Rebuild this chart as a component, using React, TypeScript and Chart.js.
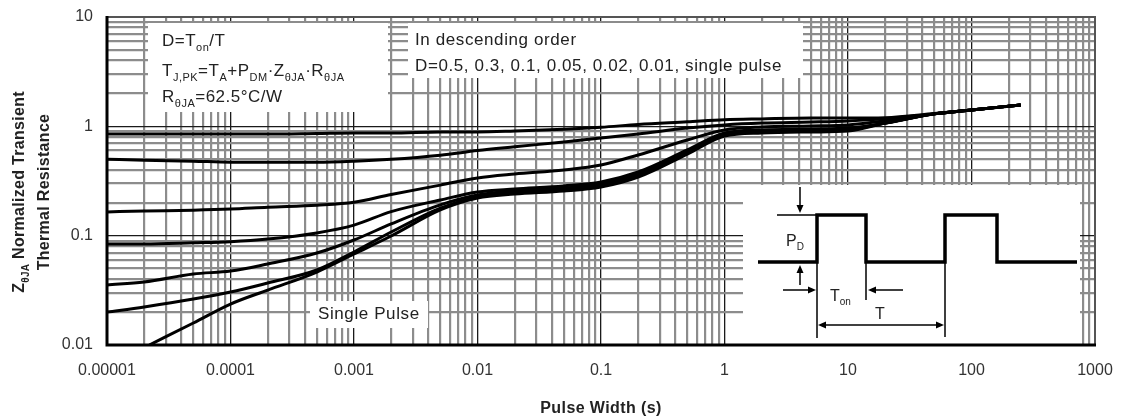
import React, { useEffect, useRef } from 'react';
import { Chart, registerables } from 'chart.js';

Chart.register(...registerables);

// ---------- data ----------
const xTickLabels = ['0.00001', '0.0001', '0.001', '0.01', '0.1', '1', '10', '100', '1000'];
const yTickLabels = ['0.01', '0.1', '1', '10'];

const pulseWidth = [1e-5, 2e-5, 5e-5, 1e-4, 2e-4, 5e-4, 1e-3, 2e-3, 5e-3, 0.01, 0.02, 0.05, 0.1, 0.2, 0.5, 1, 2, 5, 10, 20, 50, 100, 250];

const zD050 = [0.85, 0.85, 0.85, 0.85, 0.85, 0.86, 0.869, 0.869, 0.888, 0.888, 0.906, 0.94, 0.98, 1.04, 1.1, 1.15, 1.17, 1.19, 1.19, 1.2, 1.31, 1.41, 1.57];
const zD030 = [0.5, 0.49, 0.48, 0.47, 0.47, 0.47, 0.48, 0.5, 0.545, 0.6, 0.65, 0.72, 0.782, 0.851, 0.965, 1.03, 1.07, 1.095, 1.12, 1.17, 1.3, 1.41, 1.57];
const zD010 = [0.165, 0.168, 0.171, 0.175, 0.182, 0.19, 0.202, 0.238, 0.29, 0.337, 0.366, 0.399, 0.443, 0.547, 0.75, 0.926, 0.986, 1.007, 1.03, 1.12, 1.3, 1.41, 1.57];
const zD005 = [0.084, 0.084, 0.086, 0.088, 0.093, 0.106, 0.125, 0.166, 0.212, 0.251, 0.267, 0.285, 0.31, 0.382, 0.608, 0.869, 0.926, 0.945, 0.965, 1.07, 1.3, 1.41, 1.57];
const zD002 = [0.0354, 0.0377, 0.0446, 0.0475, 0.0551, 0.0694, 0.0913, 0.128, 0.191, 0.235, 0.256, 0.273, 0.297, 0.366, 0.582, 0.851, 0.906, 0.926, 0.945, 1.07, 1.3, 1.41, 1.57];
const zD001 = [0.02, 0.0223, 0.0263, 0.0305, 0.0369, 0.0485, 0.0709, 0.108, 0.179, 0.226, 0.246, 0.262, 0.285, 0.351, 0.57, 0.833, 0.888, 0.906, 0.926, 1.07, 1.3, 1.41, 1.57];

const singlePulseWidth = [2.2e-5, 5e-5, 1e-4, 2e-4, 5e-4, 1e-3, 2e-3, 5e-3, 0.01, 0.02, 0.05, 0.1, 0.2, 0.5, 1, 2, 5, 10, 20, 50, 100, 250];
const zSingle = [0.01, 0.0159, 0.0237, 0.0318, 0.0465, 0.068, 0.0993, 0.172, 0.221, 0.24, 0.256, 0.279, 0.344, 0.558, 0.816, 0.869, 0.888, 0.906, 1.07, 1.3, 1.41, 1.57];

const seriesNames = ['D=0.5', 'D=0.3', 'D=0.1', 'D=0.05', 'D=0.02', 'D=0.01', 'Single Pulse'];

// ---------- helpers ----------
const FONT = '"Liberation Sans", Arial, Helvetica, sans-serif';

const isDecade = (v: number) => {
  const l = Math.log10(v);
  return Math.abs(l - Math.round(l)) < 1e-6;
};

const logGridValues = (fromExp: number, toExp: number) => {
  const vals: number[] = [];
  for (let e = fromExp; e < toExp; e++) {
    for (let m = 1; m < 10; m++) vals.push(m * Math.pow(10, e));
  }
  vals.push(Math.pow(10, toExp));
  return vals;
};

type Part = [string, boolean];

function drawRich(ctx: CanvasRenderingContext2D, parts: Part[], x: number, y: number, size: number, sub: number, bold: boolean, align: 'left' | 'center', spacing = 0) {
  const mainF = `${bold ? 'bold ' : ''}${size}px ${FONT}`;
  const subF = `${bold ? 'bold ' : ''}${sub}px ${FONT}`;
  (ctx as any).letterSpacing = `${spacing}px`;
  let w = 0;
  parts.forEach(([t, s]) => {
    ctx.font = s ? subF : mainF;
    w += ctx.measureText(t).width;
  });
  let cx = align === 'center' ? x - w / 2 : x;
  ctx.textAlign = 'left';
  ctx.textBaseline = 'alphabetic';
  const base = y + size * 0.358;
  parts.forEach(([t, s]) => {
    ctx.font = s ? subF : mainF;
    ctx.fillText(t, cx, s ? base + size * 0.28 : base);
    cx += ctx.measureText(t).width;
  });
  (ctx as any).letterSpacing = '0px';
}

function arrow(ctx: CanvasRenderingContext2D, x1: number, y1: number, x2: number, y2: number, head = 8, half = 3.5) {
  const a = Math.atan2(y2 - y1, x2 - x1);
  ctx.beginPath();
  ctx.moveTo(x1, y1);
  ctx.lineTo(x2 - Math.cos(a) * head * 0.8, y2 - Math.sin(a) * head * 0.8);
  ctx.stroke();
  ctx.beginPath();
  ctx.moveTo(x2, y2);
  ctx.lineTo(x2 - Math.cos(a) * head + Math.sin(a) * half, y2 - Math.sin(a) * head - Math.cos(a) * half);
  ctx.lineTo(x2 - Math.cos(a) * head - Math.sin(a) * half, y2 - Math.sin(a) * head + Math.cos(a) * half);
  ctx.closePath();
  ctx.fill();
}

const overlayPlugin = {
  id: 'overlay',
  beforeDatasetsDraw(chart: any) {
    const ctx: CanvasRenderingContext2D = chart.ctx;
    const { left: L, top: T } = chart.chartArea;
    ctx.save();
    ctx.fillStyle = '#ffffff';
    // text boxes and inset area covering the grid
    ctx.fillRect(L + 41, T + 6, 240, 89);
    ctx.fillRect(L + 301, T + 6, 395, 55);
    ctx.fillRect(L + 203, T + 284, 118, 27);
    ctx.fillRect(L + 636, T + 168, 337, 160);
    ctx.restore();
  },
  afterDatasetsDraw(chart: any) {
    const ctx: CanvasRenderingContext2D = chart.ctx;
    const { left, top, right, bottom } = chart.chartArea;
    const L = left, T = top;
    ctx.save();

    // plot frame
    ctx.lineCap = 'butt';
    ctx.strokeStyle = '#555';
    ctx.lineWidth = 2;
    ctx.beginPath();
    ctx.moveTo(left, top);
    ctx.lineTo(right, top);
    ctx.lineTo(right, bottom);
    ctx.stroke();
    ctx.strokeStyle = '#000';
    ctx.lineWidth = 3;
    ctx.beginPath();
    ctx.moveTo(left, top - 1);
    ctx.lineTo(left, bottom);
    ctx.lineTo(right + 1, bottom);
    ctx.stroke();

    ctx.fillStyle = '#222';
    // top-left box text
    drawRich(ctx, [['D=T', false], ['on', true], ['/T', false]], L + 55, T + 23, 17, 11, false, 'left', 0.5);
    drawRich(ctx, [['T', false], ['J,PK', true], ['=T', false], ['A', true], ['+P', false], ['DM', true], ['·Z', false], ['θJA', true], ['·R', false], ['θJA', true]], L + 55, T + 53, 17, 11, false, 'left', 0.5);
    drawRich(ctx, [['R', false], ['θJA', true], ['=62.5°C/W', false]], L + 55, T + 79, 17, 11, false, 'left', 0.5);
    // top-right box text
    drawRich(ctx, [['In descending order', false]], L + 308, T + 22, 17, 11, false, 'left', 0.6);
    drawRich(ctx, [['D=0.5, 0.3, 0.1, 0.05, 0.02, 0.01, single pulse', false]], L + 308, T + 48, 17, 11, false, 'left', 0.6);
    // single pulse label
    drawRich(ctx, [['Single Pulse', false]], L + 211, T + 296, 17, 11, false, 'left', 0.6);

    // inset pulse diagram
    const X = (v: number) => L + v;
    const Y = (v: number) => T + v;
    ctx.strokeStyle = '#000';
    ctx.fillStyle = '#000';
    ctx.lineJoin = 'miter';
    ctx.lineWidth = 3.5;
    ctx.beginPath();
    ctx.moveTo(X(651), Y(245));
    ctx.lineTo(X(710), Y(245));
    ctx.lineTo(X(710), Y(198));
    ctx.lineTo(X(759), Y(198));
    ctx.lineTo(X(759), Y(245));
    ctx.lineTo(X(838), Y(245));
    ctx.lineTo(X(838), Y(198));
    ctx.lineTo(X(890), Y(198));
    ctx.lineTo(X(890), Y(245));
    ctx.lineTo(X(970), Y(245));
    ctx.stroke();

    ctx.lineWidth = 1.5;
    ctx.beginPath();
    ctx.moveTo(X(670), Y(198));
    ctx.lineTo(X(710), Y(198));
    ctx.moveTo(X(710), Y(245));
    ctx.lineTo(X(710), Y(321));
    ctx.moveTo(X(759), Y(245));
    ctx.lineTo(X(759), Y(283));
    ctx.moveTo(X(838), Y(245));
    ctx.lineTo(X(838), Y(320));
    ctx.stroke();

    arrow(ctx, X(693), Y(170), X(693), Y(196));
    arrow(ctx, X(693), Y(268), X(693), Y(248));
    arrow(ctx, X(676), Y(273), X(709), Y(273));
    arrow(ctx, X(796), Y(273), X(761), Y(273));
    arrow(ctx, X(760), Y(308), X(711), Y(308));
    arrow(ctx, X(760), Y(308), X(837), Y(308));

    ctx.fillStyle = '#222';
    drawRich(ctx, [['P', false], ['D', true]], X(679), Y(223), 16, 10, false, 'left');
    drawRich(ctx, [['T', false], ['on', true]], X(723), Y(278), 16, 10, false, 'left');
    drawRich(ctx, [['T', false]], X(773), Y(296), 16, 10, false, 'center');

    // axis titles
    ctx.fillStyle = '#222';
    drawRich(ctx, [['Pulse Width (s)', false]], (left + right) / 2, 407, 16, 11, true, 'center', 0.4);
    ctx.translate(18.5, 192);
    ctx.rotate(-Math.PI / 2);
    drawRich(ctx, [['Z', false], ['θJA', true], [' Normalized Transient', false]], 0, 0, 16, 10, true, 'center', 0.3);
    ctx.restore();
    ctx.save();
    ctx.fillStyle = '#222';
    ctx.translate(43.5, 192);
    ctx.rotate(-Math.PI / 2);
    drawRich(ctx, [['Thermal Resistance', false]], 0, 0, 16, 10, true, 'center', 0.3);
    ctx.restore();
  },
};

const zip = (xs: number[], ys: number[]) => xs.map((x, i) => ({ x, y: ys[i] }));

export default function App() {
  const ref = useRef<HTMLCanvasElement | null>(null);

  useEffect(() => {
    document.body.style.margin = '0';
    const canvas = ref.current;
    if (!canvas) return;

    const seriesData = [
      zip(pulseWidth, zD050),
      zip(pulseWidth, zD030),
      zip(pulseWidth, zD010),
      zip(pulseWidth, zD005),
      zip(pulseWidth, zD002),
      zip(pulseWidth, zD001),
      zip(singlePulseWidth, zSingle),
    ];

    const gridColor = (c: any) => (c.tick && isDecade(c.tick.value) ? '#1a1a1a' : '#8c8c8c');
    const gridWidth = (c: any) => (c.tick && isDecade(c.tick.value) ? 1.3 : 2.2);

    const chart = new Chart(canvas, {
      type: 'line',
      data: {
        datasets: seriesData.map((d, i) => ({
          label: seriesNames[i],
          data: d,
          borderColor: '#000',
          borderWidth: 3,
          pointRadius: 0,
          fill: false,
          cubicInterpolationMode: 'monotone' as const,
        })),
      },
      options: {
        responsive: false,
        animation: false,
        events: [],
        layout: { padding: { left: 0, right: 28, top: 17, bottom: 0 } },
        plugins: { legend: { display: false }, tooltip: { enabled: false }, title: { display: false } },
        scales: {
          x: {
            type: 'logarithmic',
            min: 1e-5,
            max: 1000,
            afterBuildTicks: (scale: any) => {
              scale.ticks = logGridValues(-5, 3).map((v) => ({ value: v }));
            },
            afterFit: (scale: any) => {
              scale.height = 72;
            },
            grid: { color: gridColor, lineWidth: gridWidth, drawTicks: true, tickLength: 16, tickColor: 'rgba(0,0,0,0)' },
            border: { display: false },
            ticks: {
              autoSkip: false,
              maxRotation: 0,
              minRotation: 0,
              padding: 0,
              color: '#333',
              font: { family: FONT, size: 16 },
              callback: (v: any) => (isDecade(Number(v)) ? xTickLabels[Math.round(Math.log10(Number(v))) + 5] : ''),
            },
          },
          y: {
            type: 'logarithmic',
            min: 0.01,
            max: 10,
            afterBuildTicks: (scale: any) => {
              scale.ticks = logGridValues(-2, 1).map((v) => ({ value: v }));
            },
            afterFit: (scale: any) => {
              scale.width = 107;
            },
            grid: { color: gridColor, lineWidth: gridWidth, drawTicks: true, tickLength: 14, tickColor: 'rgba(0,0,0,0)' },
            border: { display: false },
            ticks: {
              autoSkip: false,
              padding: 0,
              color: '#333',
              font: { family: FONT, size: 16 },
              callback: (v: any) => (isDecade(Number(v)) ? yTickLabels[Math.round(Math.log10(Number(v))) + 2] : ''),
            },
          },
        },
      } as any,
      plugins: [overlayPlugin],
    });

    return () => chart.destroy();
  }, []);

  return (
    <div style={{ width: 1123, height: 417, background: '#fff' }}>
      <canvas ref={ref} width={1123} height={417} style={{ display: 'block' }} />
    </div>
  );
}
